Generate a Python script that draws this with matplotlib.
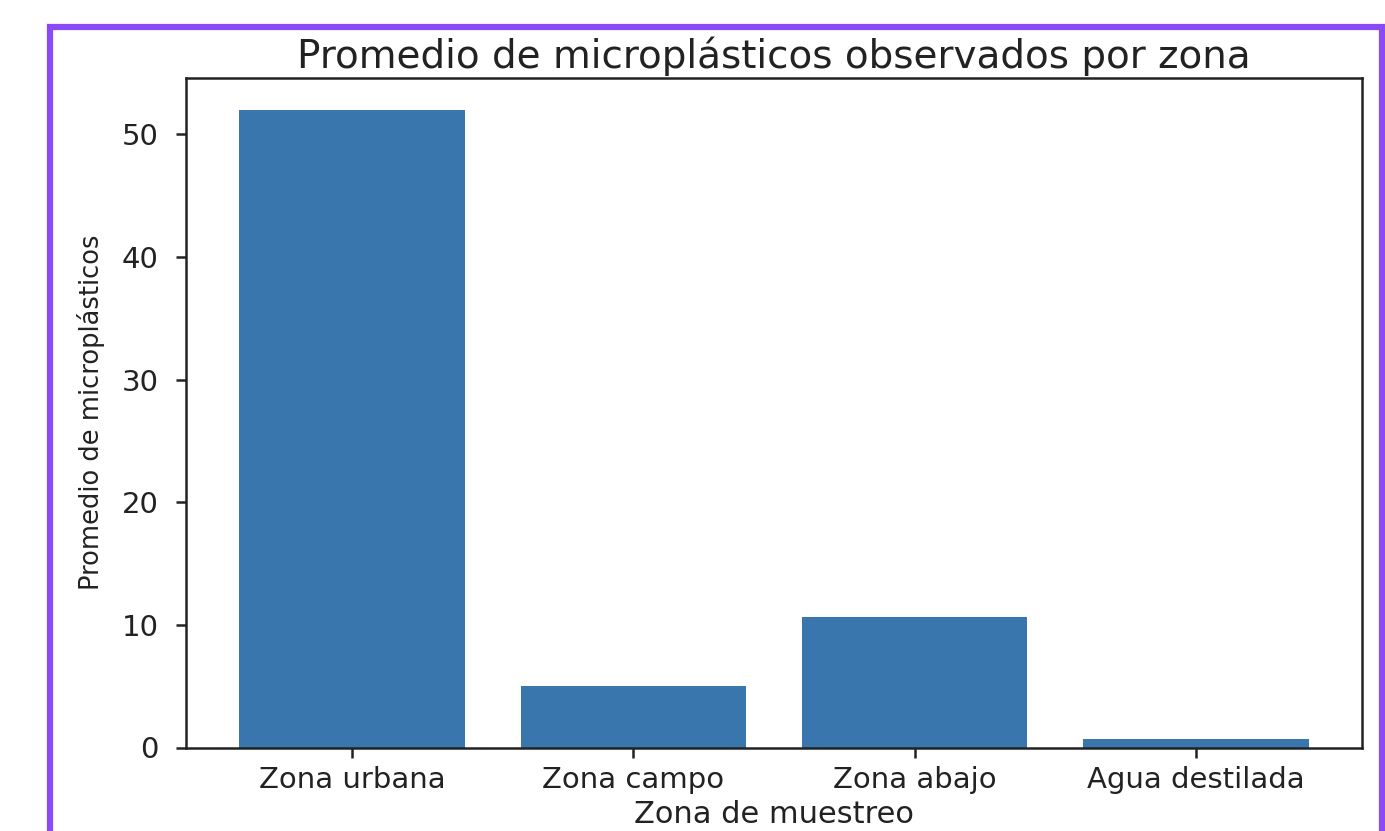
import matplotlib
matplotlib.use("Agg")
import matplotlib.pyplot as plt
from matplotlib.patches import Rectangle

zonas = ["Zona urbana", "Zona campo", "Zona abajo", "Agua destilada"]
promedios = [52.0, 5.0, 10.67, 0.7]

plt.rcParams['font.family'] = ['DejaVu Sans']

fig = plt.figure(figsize=(13.85, 8.31), dpi=100)
fig.patch.set_facecolor('white')

# purple frame of the screenshot
frame = Rectangle((50 / 1385, -0.05), (1382 - 50) / 1385, 1.05 - 27 / 831,
                  transform=fig.transFigure, fill=False, edgecolor='#8a4af5',
                  linewidth=4.5, zorder=0)
fig.patches.append(frame)

ax = fig.add_axes([186 / 1385, 1 - 747.5 / 831, (1362 - 186) / 1385, (747.5 - 78) / 831])
ax.bar(zonas, promedios, color='#3a76ae', width=0.8)

ax.set_title("Promedio de microplásticos observados por zona", fontsize=28, pad=7,
             color='#222222')
ax.set_xlabel("Zona de muestreo", fontsize=22, labelpad=4, color='#222222')
ax.set_ylabel("Promedio de microplásticos", fontsize=18.5, labelpad=12, color='#222222')
ax.tick_params(axis='both', labelsize=21, length=7.5, width=1.8,
               labelcolor='#222222', color='#222222')
ax.tick_params(axis='x', pad=6)
ax.tick_params(axis='y', pad=12)
for s in ax.spines.values():
    s.set_linewidth(1.8)
    s.set_color('#222222')

fig.savefig("out.png", dpi=100)
